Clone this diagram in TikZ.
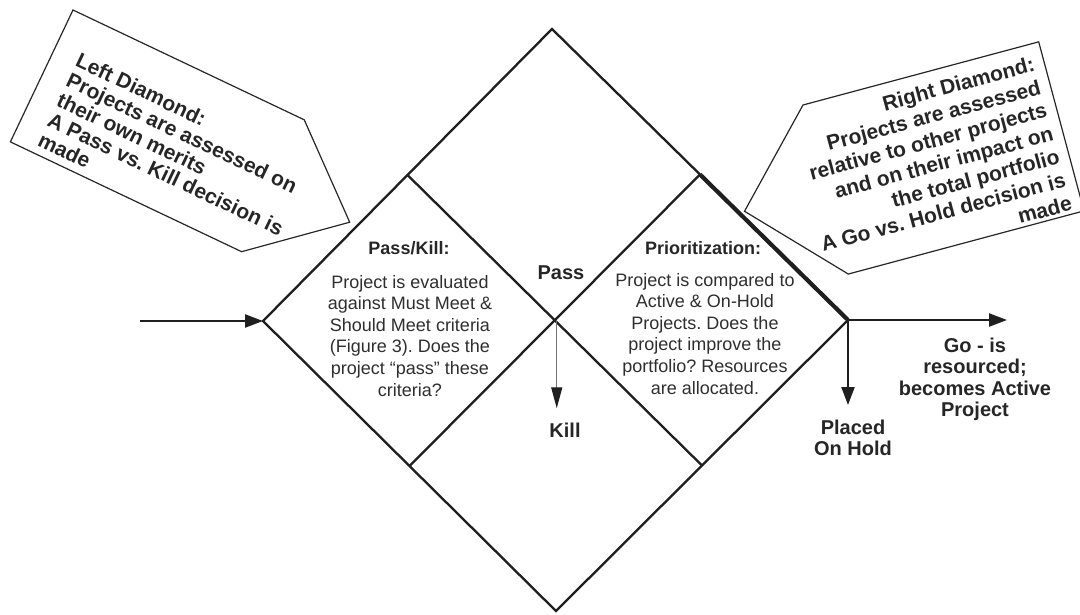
\documentclass[tikz,border=0pt]{standalone}
\usepackage{fontspec}
\setmainfont{Liberation Sans}
\usetikzlibrary{arrows.meta,calc}
\frenchspacing

\begin{document}
\begin{tikzpicture}[x=1pt,y=-1pt,
  edge/.style={line width=2.3pt, line join=miter, color=black!88},
  heavyedge/.style={line width=4.2pt, color=black!88},
  callout/.style={line width=1.2pt, line join=miter, color=black!85},
  flow/.style={line width=2.3pt, color=black!88, -{Triangle[length=18pt,width=13pt]}},
  killflow/.style={line width=1.3pt, color=black!55, -{Triangle[length=21pt,width=11pt,color=black!88]}},
  body/.style={font=\fontsize{18}{21.6}\selectfont, text=black!82, align=center, anchor=base, inner sep=0pt},
  title/.style={font=\bfseries\fontsize{18}{21.6}\selectfont, text=black!85, anchor=base, inner sep=0pt},
  label/.style={font=\bfseries\fontsize{20}{21.5}\selectfont, text=black!85, align=center, anchor=base, inner sep=0pt},
  note/.style={font=\bfseries\fontsize{21}{22}\selectfont, text=black!85, inner sep=0pt},
]
\useasboundingbox (0,0) rectangle (1080,614);
\clip (0,0) rectangle (1080,614);

% outer diamond and its corners
\coordinate (T) at (552,29);
\coordinate (L) at (263,321);
\coordinate (R) at (848,320);
\coordinate (B) at (556,611);
\coordinate (UL) at ($(T)!0.5!(L)$);
\coordinate (UR) at ($(T)!0.5!(R)$);
\coordinate (LL) at ($(L)!0.5!(B)$);
\coordinate (LR) at ($(R)!0.5!(B)$);
\coordinate (C) at (intersection of UL--LR and UR--LL);

\draw[edge] (T) -- (L) -- (B) -- (R) -- cycle;
\draw[edge] (UL) -- (LR);
\draw[edge] (UR) -- (LL);
\draw[heavyedge] (UR) -- (R);

% flow arrows
\coordinate (entry) at (140,321);
\coordinate (goEnd) at (1007,320);
\coordinate (holdEnd) at (848,405);
\coordinate (killEnd) at ($(C)+(2,88)$);
\draw[flow] (entry) -- (L);
\draw[flow] (R) -- (goEnd);
\draw[flow] (R) -- (holdEnd);
\draw[killflow] ($(C)+(2,0)$) -- (killEnd);

% texts inside the two inner diamonds (multi-line nodes sit on their last baseline)
\node[title] (pkTitle) at (409,254.5) {Pass/Kill:};
\node[body] (pkBody) at (410,396) {Project is evaluated\\against Must Meet \&\\Should Meet criteria\\(Figure 3). Does the\\project “pass” these\\criteria?};
\node[title] (prTitle) at (703,254.5) {Prioritization:};
\node[body] (prBody) at (705,394) {Project is compared to\\Active \& On-Hold\\Projects. Does the\\project improve the\\portfolio? Resources\\are allocated.};

% outcome labels
\node[label] (pass) at (561,279) {Pass};
\node[label] (kill) at (565,437) {Kill};
\node[label] (go) at (975,416.5) {Go - is\\resourced;\\becomes Active\\Project};
\node[label] (hold) at (853,455.5) {Placed\\On Hold};

% left callout
\begin{scope}[shift={(73,10)}, rotate=-25.4]
  \draw[callout] (0,0) -- (256,0) -- (341,73) -- (256,146) -- (0,146) -- cycle;
  \node[note, anchor=base west, align=left, rotate=-25.4] (leftNote) at (25,138)
    {Left Diamond:\\Projects are assessed on\\their own merits\\A Pass vs. Kill decision is\\made};
\end{scope}

% right callout
\begin{scope}[shift={(803,105)}, rotate=15]
  \draw[callout] (0,0) -- (244,0) -- (244,175) -- (0,175) -- (-84,87.5) -- cycle;
  \node[note, font=\bfseries\fontsize{21}{24}\selectfont, anchor=base east, align=right, rotate=15] (rightNote) at (234,171)
    {Right Diamond:\\Projects are assessed\\relative to other projects\\and on their impact on\\the total portfolio\\A Go vs. Hold decision is\\made};
\end{scope}
\end{tikzpicture}
\end{document}
